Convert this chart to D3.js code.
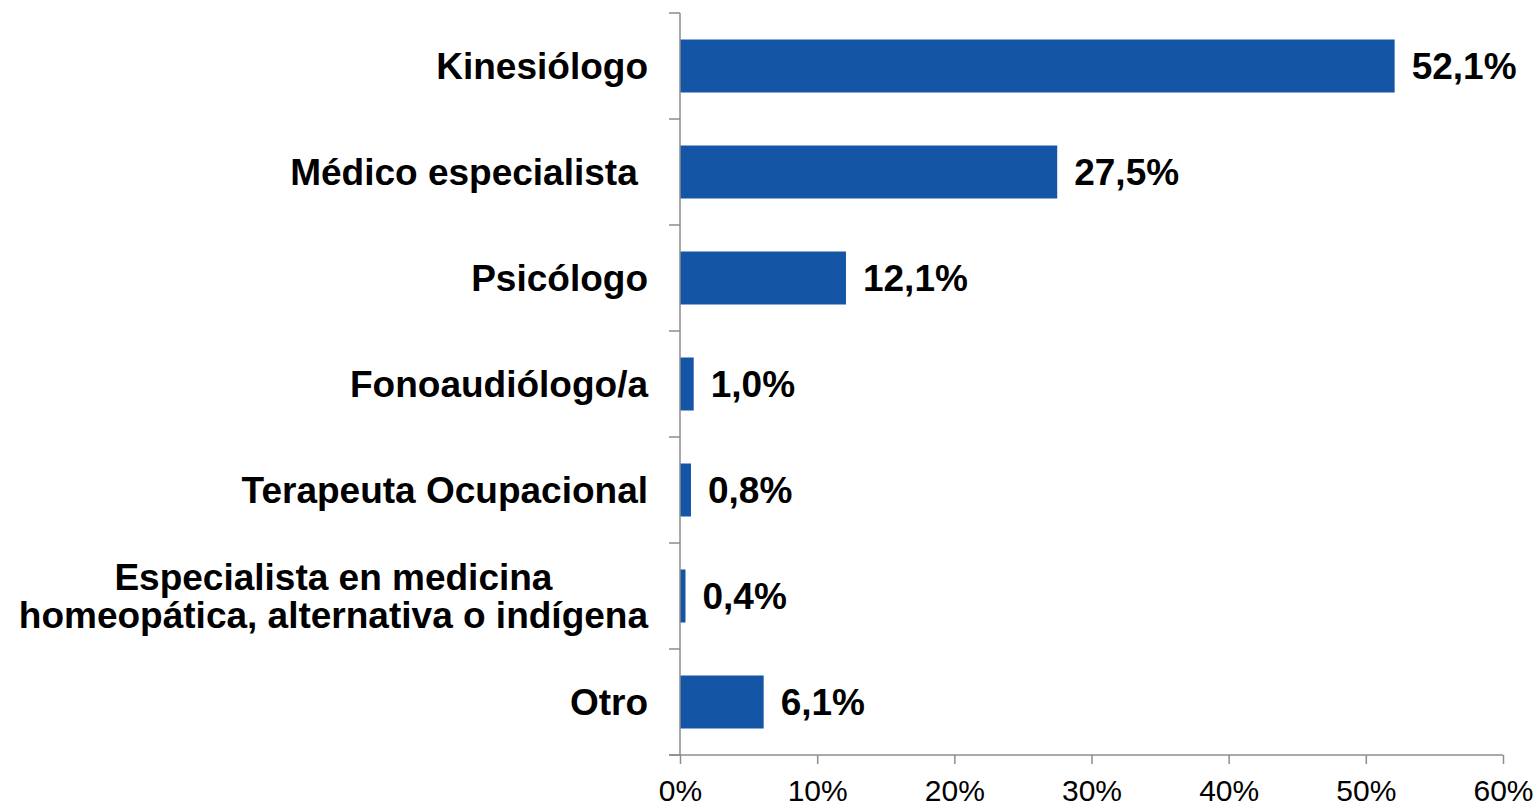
<!DOCTYPE html>
<html>
<head>
<meta charset="utf-8">
<script src="https://cdn.jsdelivr.net/npm/d3@7"></script>
<style>
  html, body { margin: 0; padding: 0; background: #ffffff; }
  svg { display: block; }
  text { font-family: Arial, "Liberation Sans", sans-serif; }
</style>
</head>
<body>
<svg id="chart" width="1536" height="808"></svg>
<script>
// Categories (each entry is a list of label lines)
const categories = [
  ["Kinesiólogo"],
  ["Médico especialista "],
  ["Psicólogo"],
  ["Fonoaudiólogo/a"],
  ["Terapeuta Ocupacional"],
  ["Especialista en medicina", "homeopática, alternativa o indígena"],
  ["Otro"]
];
// Share of respondents, in percent
const values = [52.1, 27.5, 12.1, 1.0, 0.8, 0.4, 6.1];
// X axis ticks, in percent
const xTicks = [0, 10, 20, 30, 40, 50, 60];

const svg = d3.select("#chart");
const plotLeft = 680, plotRight = 1503, plotTop = 13, plotBottom = 755;
const barColor = "#1555a6";
const axisColor = "#8c8c8c";
const boldSize = 37;

const keys = categories.map((c, i) => i);
const x = d3.scaleLinear().domain([0, 60]).range([plotLeft, plotRight]);
const y = d3.scaleBand().domain(keys).range([plotTop, plotBottom])
  .paddingInner(0.5).paddingOuter(0.25);

const fmt = v => d3.format(".1f")(v).replace(".", ",") + "%";

// Bars
svg.append("g").selectAll("rect")
  .data(values)
  .join("rect")
  .attr("x", x(0))
  .attr("y", (d, i) => y(i))
  .attr("width", d => x(d) - x(0))
  .attr("height", y.bandwidth())
  .attr("fill", barColor);

// Value labels
svg.append("g").selectAll("text")
  .data(values)
  .join("text")
  .attr("x", d => x(d) + 17)
  .attr("y", (d, i) => y(i) + y.bandwidth() / 2)
  .attr("dy", "0.35em")
  .attr("font-size", boldSize)
  .attr("font-weight", "bold")
  .attr("fill", "#000")
  .text(d => fmt(d));

// X axis
const xAxis = d3.axisBottom(x)
  .tickValues(xTicks)
  .tickFormat(d => d + "%")
  .tickSize(9)
  .tickSizeOuter(0)
  .tickPadding(16);
const gx = svg.append("g")
  .attr("transform", `translate(0,${plotBottom})`)
  .call(xAxis);
gx.select(".domain").remove();
gx.selectAll(".tick line").attr("stroke", axisColor).attr("stroke-width", 1.5);
gx.selectAll(".tick text")
  .attr("font-size", 30)
  .attr("font-family", "Arial, 'Liberation Sans', sans-serif")
  .attr("fill", "#000")
  .attr("dy", "0.71em");
gx.append("line")
  .attr("x1", plotLeft - 11).attr("x2", plotRight)
  .attr("y1", 0).attr("y2", 0)
  .attr("stroke", axisColor).attr("stroke-width", 1.5);

// Y axis line and category boundary ticks
const gy = svg.append("g");
gy.append("line")
  .attr("x1", plotLeft).attr("x2", plotLeft)
  .attr("y1", plotTop).attr("y2", plotBottom)
  .attr("stroke", axisColor).attr("stroke-width", 1.5);
const bounds = d3.range(categories.length + 1).map(i => y.range()[0] + i * y.step());
gy.selectAll("line.tick")
  .data(bounds)
  .join("line")
  .attr("class", "tick")
  .attr("x1", plotLeft - 11).attr("x2", plotLeft)
  .attr("y1", d => d).attr("y2", d => d)
  .attr("stroke", axisColor).attr("stroke-width", 1.5);

// Category labels (multi-line labels centred on their block)
const labelRight = plotLeft - 32;
const lineH = 38;
const lg = svg.append("g");
categories.forEach((lines, i) => {
  const cy = y(i) + y.bandwidth() / 2;
  const t = lg.append("text")
    .attr("font-size", boldSize)
    .attr("font-weight", "bold")
    .attr("fill", "#000")
    .style("white-space", "pre");
  const spans = lines.map((line, j) => t.append("tspan")
    .attr("y", cy + (j - (lines.length - 1) / 2) * lineH)
    .attr("dy", "0.35em")
    .text(line));
  if (lines.length === 1) {
    t.attr("text-anchor", "end").attr("x", labelRight);
    spans[0].attr("x", labelRight);
  } else {
    const widths = spans.map(s => s.node().getComputedTextLength());
    const w = d3.max(widths);
    const cx = labelRight - w / 2;
    t.attr("text-anchor", "middle");
    spans.forEach(s => s.attr("x", cx));
  }
});
</script>
</body>
</html>
